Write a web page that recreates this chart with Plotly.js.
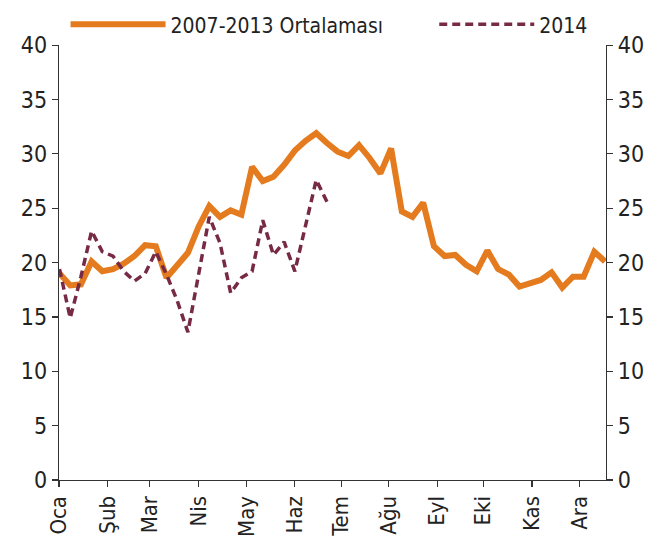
<!DOCTYPE html>
<html>
<head>
<meta charset="utf-8">
<script src="https://cdn.plot.ly/plotly-3.0.1.min.js"></script>
<style>html,body{margin:0;padding:0;background:#fff;}#chart{width:664px;height:548px;}</style>
</head>
<body>
<div id="chart"></div>
<script>
// Week numbers (weekly data across the year)
const weeks = [1,2,3,4,5,6,7,8,9,10,11,12,13,14,15,16,17,18,19,20,21,22,23,24,25,26,
  27,28,29,30,31,32,33,34,35,36,37,38,39,40,41,42,43,44,45,46,47,48,49,50,51,52];

// 2007-2013 average
const avg0713 = [19.0,17.9,18.0,20.1,19.2,19.4,19.9,20.6,21.6,21.5,18.6,19.7,20.9,23.3,25.2,24.2,
  24.8,24.4,28.8,27.5,27.9,29.0,30.3,31.2,31.9,31.0,30.2,29.8,30.8,29.6,28.2,30.5,24.7,24.2,
  25.5,21.5,20.6,20.7,19.8,19.2,21.1,19.4,18.9,17.8,18.1,18.4,19.1,17.7,18.7,18.7,21.0,20.1];

// 2014 (available weeks only)
const y2014 = [19.4,14.9,18.7,22.9,21.0,20.6,19.2,18.3,19.0,21.0,18.9,16.5,13.6,19.0,24.2,21.8,
  17.2,18.6,19.2,23.9,20.7,21.9,19.2,23.4,27.6,25.6];

// Month tick labels and their positions (in week units)
const monthLabels = ["Oca","Şub","Mar","Nis","May","Haz","Tem","Ağu","Eyl","Eki","Kas","Ara"];
const monthPos = [0.95,5.51,9.41,14.02,18.48,22.96,27.33,31.78,36.30,40.60,45.18,49.63];

const seriesNames = ["2007-2013 Ortalaması","2014"];
const yTicks = [0,5,10,15,20,25,30,35,40];

const FONT = "'Liberation Sans Narrow','DejaVu Sans Condensed','Liberation Sans',Arial,sans-serif";
const AXC = "#333333";

const traces = [
  {
    x: weeks, y: avg0713, name: seriesNames[0], type: "scatter", mode: "lines",
    line: {color: "#E47B1F", width: 6}, xaxis: "x", yaxis: "y", legend: "legend"
  },
  {
    x: weeks.slice(0, y2014.length), y: y2014, name: seriesNames[1], type: "scatter", mode: "lines",
    line: {color: "#762A45", width: 3.5, dash: "8px,5px"}, xaxis: "x", yaxis: "y2", legend: "legend2"
  }
];

const yCommon = {
  range: [0, 40], tickvals: yTicks, ticktext: yTicks.map(String),
  showgrid: false, zeroline: false, showline: true, linecolor: AXC, linewidth: 1.2,
  ticks: "outside", ticklen: 6, tickcolor: AXC, tickwidth: 1.2,
  tickfont: {family: FONT, size: 23, color: "#222"}, fixedrange: true
};

const legendCommon = {
  orientation: "h", yref: "container", y: 0.955, xanchor: "left", yanchor: "middle",
  font: {family: FONT, size: 21, color: "#222"},
  itemwidth: 95, bgcolor: "rgba(0,0,0,0)"
};

const layout = {
  width: 664, height: 548,
  margin: {l: 59, r: 58, t: 45, b: 68, pad: 0},
  paper_bgcolor: "#fff", plot_bgcolor: "#fff",
  font: {family: FONT, color: "#222"},
  showlegend: true,
  legend: Object.assign({}, legendCommon, {x: 0.012}),
  legend2: Object.assign({}, legendCommon, {x: 0.686}),
  xaxis: {
    range: [0.95, 52.09], tickvals: monthPos, ticktext: monthLabels, tickangle: -90,
    showgrid: false, zeroline: false, showline: true, linecolor: AXC, linewidth: 1.2,
    ticks: "outside", ticklen: 6, tickcolor: AXC, tickwidth: 1.2,
    tickfont: {family: FONT, size: 22, color: "#222"}, fixedrange: true
  },
  yaxis: Object.assign({}, yCommon, {side: "left"}),
  yaxis2: Object.assign({}, yCommon, {side: "right", overlaying: "y", anchor: "x"})
};

Plotly.newPlot("chart", traces, layout, {staticPlot: true, displayModeBar: false});
</script>
</body>
</html>
